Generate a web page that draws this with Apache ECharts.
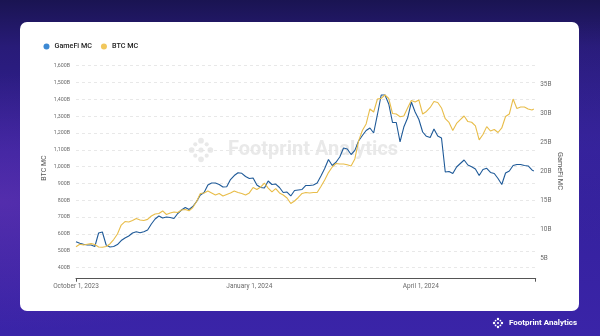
<!DOCTYPE html>
<html>
<head>
<meta charset="utf-8">
<script src="https://cdn.jsdelivr.net/npm/echarts@6/dist/echarts.min.js"></script>
<style>
html,body{margin:0;padding:0;width:600px;height:336px;overflow:hidden;}
body{position:relative;background:linear-gradient(180deg,#1a1452 0%,#281b78 14%,#33209a 45%,#3a24a8 100%);font-family:Roboto,"Liberation Sans",sans-serif;}
#glow{position:absolute;left:0;top:0;width:600px;height:336px;background:radial-gradient(ellipse at 0% 60%,rgba(120,60,190,0.45) 0%,rgba(120,60,190,0) 45%),radial-gradient(ellipse at 100% 40%,rgba(60,40,160,0.35) 0%,rgba(60,40,160,0) 40%);}
#card{position:absolute;left:20px;top:22px;width:559px;height:289px;background:#fff;border-radius:7px;}
#chart{position:absolute;left:0;top:0;width:600px;height:336px;}
</style>
</head>
<body>
<div id="glow"></div>
<div id="card"></div>
<div id="chart"></div>
<script>
// Sampled every other day, Oct 2023 – May 2024
const dates = [
  '2023-10-01','2023-10-03','2023-10-05','2023-10-07','2023-10-09','2023-10-11','2023-10-13','2023-10-15','2023-10-17','2023-10-19',
  '2023-10-21','2023-10-23','2023-10-25','2023-10-27','2023-10-29','2023-10-31','2023-11-02','2023-11-04','2023-11-06','2023-11-08',
  '2023-11-10','2023-11-12','2023-11-14','2023-11-16','2023-11-18','2023-11-20','2023-11-22','2023-11-24','2023-11-26','2023-11-28',
  '2023-11-30','2023-12-02','2023-12-04','2023-12-06','2023-12-08','2023-12-10','2023-12-12','2023-12-14','2023-12-16','2023-12-18',
  '2023-12-20','2023-12-22','2023-12-24','2023-12-26','2023-12-28','2023-12-30','2024-01-01','2024-01-03','2024-01-05','2024-01-07',
  '2024-01-09','2024-01-11','2024-01-13','2024-01-15','2024-01-17','2024-01-19','2024-01-21','2024-01-23','2024-01-25','2024-01-27',
  '2024-01-29','2024-01-31','2024-02-02','2024-02-04','2024-02-06','2024-02-08','2024-02-10','2024-02-12','2024-02-14','2024-02-16',
  '2024-02-18','2024-02-20','2024-02-22','2024-02-24','2024-02-26','2024-02-28','2024-03-01','2024-03-03','2024-03-05','2024-03-07',
  '2024-03-09','2024-03-11','2024-03-13','2024-03-15','2024-03-17','2024-03-19','2024-03-21','2024-03-23','2024-03-25','2024-03-27',
  '2024-03-29','2024-03-31','2024-04-02','2024-04-04','2024-04-06','2024-04-08','2024-04-10','2024-04-12','2024-04-14','2024-04-16',
  '2024-04-18','2024-04-20','2024-04-22','2024-04-24','2024-04-26','2024-04-28','2024-04-30','2024-05-02','2024-05-04','2024-05-06',
  '2024-05-08','2024-05-10','2024-05-12','2024-05-14','2024-05-16','2024-05-18','2024-05-20','2024-05-22','2024-05-24','2024-05-26',
  '2024-05-28','2024-05-30','2024-05-31'
];

// GameFi market cap, billions USD (right axis)
const gamefiMC = [
  7.82,7.54,7.37,7.25,7.25,6.99,9.32,9.49,7.25,6.90,
  6.99,7.33,8.02,8.45,8.80,9.32,9.54,9.37,9.54,9.83,
  10.87,11.73,12.25,11.90,12.07,11.99,11.82,12.68,13.28,13.71,
  13.37,13.88,14.75,15.87,16.30,17.59,17.94,17.94,17.68,17.25,
  17.30,18.54,19.23,19.71,19.61,19.06,18.71,18.80,17.59,17.16,
  17.07,18.28,17.68,17.76,17.16,16.30,16.38,15.70,16.64,16.73,
  16.82,17.51,17.51,17.59,17.94,19.14,20.44,21.99,20.95,21.51,
  22.42,23.97,23.80,22.85,23.57,25.18,26.13,26.99,27.42,26.56,
  29.75,33.11,33.11,31.56,28.37,28.37,25.01,27.59,29.14,31.90,
  30.18,28.89,26.73,25.99,25.78,27.25,26.04,25.70,19.83,19.92,
  19.57,20.70,21.30,21.90,21.04,20.73,20.35,19.23,20.26,20.47,
  19.75,19.57,18.71,17.68,19.66,20.01,20.95,21.13,21.13,20.95,
  20.87,20.18,20.01
];

// BTC market cap, billions USD (left axis)
const btcMC = [
  524,539,535,539,543,538,523,521,526,541,
  567,600,653,674,671,680,692,683,680,687,
  707,719,722,737,716,725,731,728,743,746,
  738,757,793,841,844,856,844,832,841,826,
  835,844,856,847,841,832,844,876,864,879,
  903,873,850,870,844,832,814,781,796,817,
  841,847,844,847,847,882,921,965,998,1019,
  1016,1016,1011,1004,1046,1153,1215,1254,1343,1325,
  1402,1406,1426,1405,1316,1313,1297,1301,1349,1393,
  1384,1396,1313,1328,1352,1387,1381,1349,1285,1263,
  1215,1257,1280,1301,1268,1264,1242,1159,1191,1238,
  1212,1221,1203,1230,1298,1313,1402,1346,1355,1355,
  1343,1337,1343
];

const xStart = '2023-10-01';
const xEnd = '2024-06-01';
const xLabelDates = ['2023-10-01', '2024-01-01', '2024-04-01'];
const monthNames = ['January','February','March','April','May','June','July','August','September','October','November','December'];

const ts = s => { const p = s.split('-').map(Number); return Date.UTC(p[0], p[1] - 1, p[2]); };
const labelStamps = xLabelDates.map(ts);

const chart = echarts.init(document.getElementById('chart'), null, { renderer: 'canvas' });

const axisTextColor = '#6a6a6a';
const fontFamily = 'Roboto, "Liberation Sans", sans-serif';

// Footprint-style burst logo made of dots
function sunburst(cx, cy, r, color) {
  const parts = [];
  for (let i = 0; i < 8; i++) {
    const a = i * Math.PI / 4;
    const rr = (i % 2 === 0) ? r * 0.22 : r * 0.16;
    const d = (i % 2 === 0) ? r * 0.72 : r * 0.62;
    parts.push({ type: 'circle', shape: { cx: cx + Math.cos(a) * d, cy: cy + Math.sin(a) * d, r: rr }, style: { fill: color }, silent: true });
  }
  parts.push({ type: 'circle', shape: { cx: cx, cy: cy, r: r * 0.2 }, style: { fill: color }, silent: true });
  return parts;
}

function formatDate(v) {
  const d = new Date(v);
  return monthNames[d.getUTCMonth()] + ' ' + d.getUTCDate() + ', ' + d.getUTCFullYear();
}

chart.setOption({
  backgroundColor: 'transparent',
  animation: false,
  textStyle: { fontFamily: fontFamily },
  legend: {
    data: ['GameFi MC', 'BTC MC'],
    left: 38.5,
    top: 38,
    icon: 'circle',
    itemWidth: 6,
    itemHeight: 6,
    itemGap: 9,
    textStyle: { fontSize: 7.2, color: '#222', fontWeight: 500, fontFamily: fontFamily }
  },
  grid: { left: 76, right: 64.3, top: 65.7, bottom: 57.3 },
  xAxis: {
    type: 'value',
    min: ts(xStart),
    max: ts(xEnd),
    axisLine: { show: true, lineStyle: { color: '#555', width: 1 } },
    axisTick: { show: true, customValues: [ts(xStart), ts(xEnd)], length: 3, lineStyle: { color: '#555' } },
    splitLine: { show: false },
    axisLabel: {
      customValues: labelStamps,
      margin: 4,
      fontSize: 6.5,
      color: axisTextColor,
      hideOverlap: false,
      formatter: formatDate
    }
  },
  yAxis: [
    {
      type: 'value',
      min: 334.4,
      max: 1600,
      splitNumber: 13,
      axisLine: { show: false },
      axisTick: { show: false },
      axisLabel: {
        showMinLabel: false,
        margin: 6,
        fontSize: 5.3,
        color: axisTextColor,
        formatter: v => v.toLocaleString('en-US') + 'B'
      },
      splitLine: { show: true, lineStyle: { color: '#e2e2e2', type: [3, 3], width: 0.8 } }
    },
    {
      type: 'value',
      min: 1.44,
      max: 38.16,
      splitNumber: 7,
      position: 'right',
      axisLine: { show: false },
      axisTick: { show: false },
      axisLabel: {
        showMinLabel: false,
        showMaxLabel: false,
        margin: 4.5,
        fontSize: 6.4,
        color: axisTextColor,
        formatter: v => v + 'B'
      },
      splitLine: { show: false }
    }
  ],
  series: [
    {
      name: 'GameFi MC',
      type: 'line',
      yAxisIndex: 1,
      showSymbol: false,
      symbol: 'none',
      itemStyle: { color: '#3d89d3' },
      lineStyle: { color: '#1f5a98', width: 1.1 },
      data: dates.map((d, i) => [ts(d), gamefiMC[i]])
    },
    {
      name: 'BTC MC',
      type: 'line',
      yAxisIndex: 0,
      showSymbol: false,
      symbol: 'none',
      itemStyle: { color: '#f1c75c' },
      lineStyle: { color: '#e8bd4a', width: 1.1 },
      data: dates.map((d, i) => [ts(d), btcMC[i]])
    }
  ],
  graphic: [
    // axis titles
    {
      type: 'text',
      x: 44.5,
      y: 168,
      rotation: Math.PI / 2,
      silent: true,
      style: { text: 'BTC MC', fill: '#555', font: '7px ' + fontFamily, textAlign: 'center', verticalAlign: 'middle' }
    },
    {
      type: 'text',
      x: 560,
      y: 171,
      rotation: -Math.PI / 2,
      silent: true,
      style: { text: 'GameFi MC', fill: '#555', font: '7.3px ' + fontFamily, textAlign: 'center', verticalAlign: 'middle' }
    },
    // watermark
    {
      type: 'group',
      silent: true,
      z: -1,
      children: sunburst(201, 150, 13, '#e9e9e9').concat([
        {
          type: 'text',
          x: 228,
          y: 150,
          style: { text: 'Footprint Analytics', fill: '#e9e9e9', font: 'bold 20px ' + fontFamily, verticalAlign: 'middle', textAlign: 'left' }
        }
      ])
    },
    // footer brand
    {
      type: 'group',
      silent: true,
      children: sunburst(498, 323, 5.5, '#ffffff').concat([
        {
          type: 'text',
          x: 509,
          y: 323,
          style: { text: 'Footprint Analytics', fill: '#ffffff', font: 'bold 8px ' + fontFamily, verticalAlign: 'middle', textAlign: 'left' }
        }
      ])
    }
  ]
});
</script>
</body>
</html>
